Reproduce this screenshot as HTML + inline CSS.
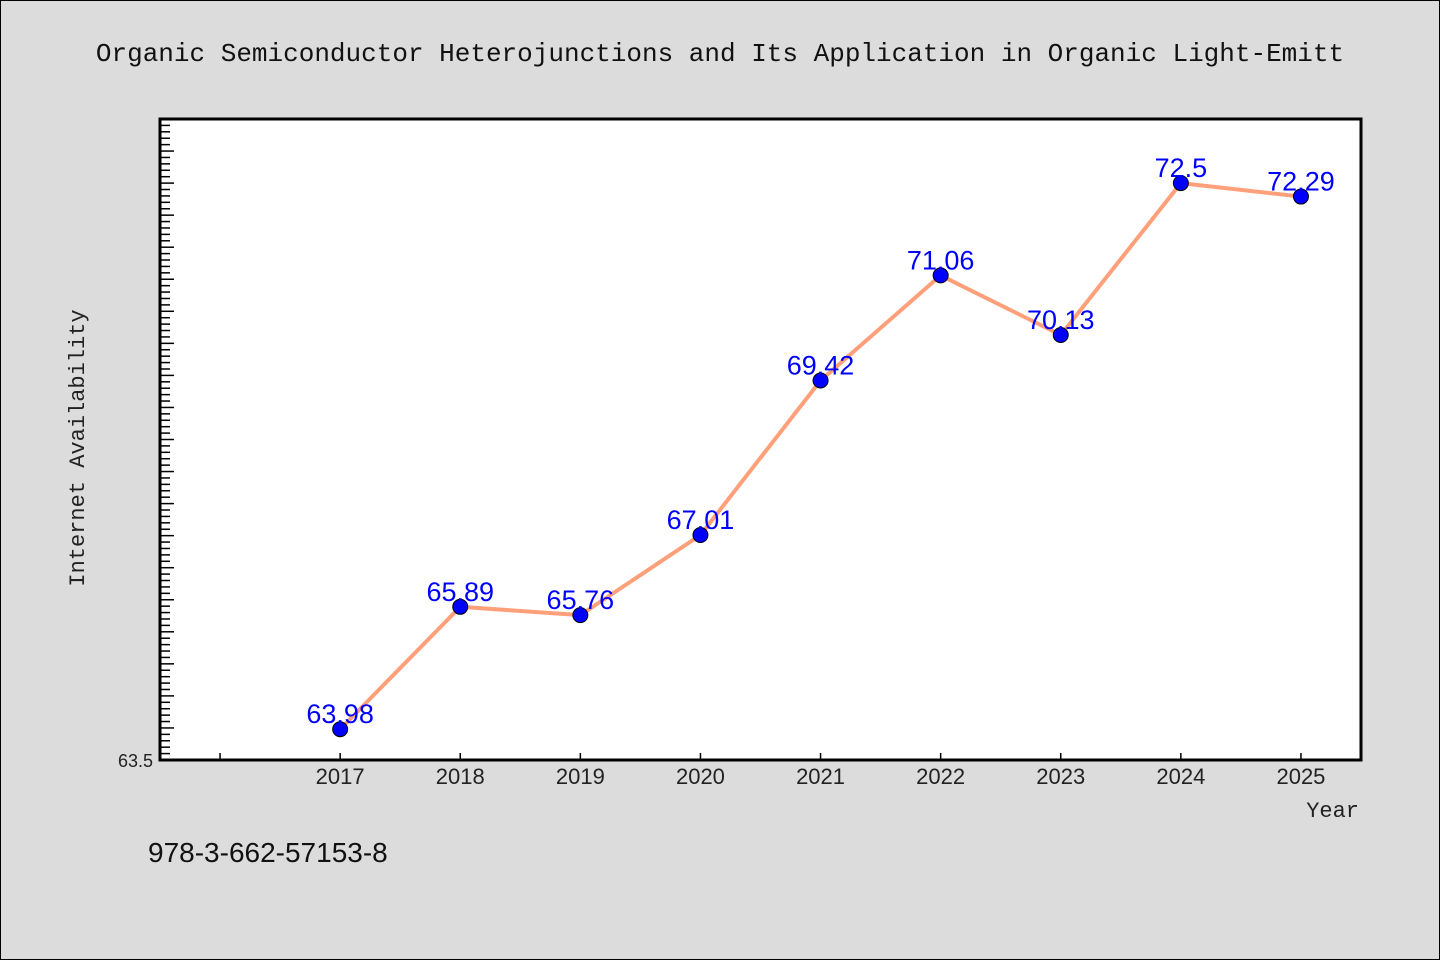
<!DOCTYPE html>
<html><head><meta charset="utf-8"><style>
html,body{margin:0;padding:0;background:#dcdcdc;}
svg{display:block;font-family:"Liberation Mono","Noto Sans CJK SC",monospace;}
</style></head><body>
<svg width="1440" height="960" viewBox="0 0 1440 960">
<rect x="0.5" y="0.5" width="1439" height="959" fill="#dcdcdc" stroke="#000" stroke-width="1"/>
<text x="720" y="61" text-anchor="middle" font-size="26" fill="#111">Organic Semiconductor Heterojunctions and Its Application in Organic Light-Emitt</text>
<rect x="160" y="119" width="1201" height="641" fill="#fff"/>
<g id="ticks"></g>
<g id="series"></g>
<rect x="160" y="119" width="1201" height="641" fill="none" stroke="#000" stroke-width="3"/>
<text x="153" y="767" text-anchor="end" font-size="18" fill="#222" font-family="Liberation Sans, sans-serif">63.5</text>
<text transform="translate(84,448) rotate(-90)" text-anchor="middle" font-size="22" fill="#222">Internet Availability</text>
<text x="1359" y="817" text-anchor="end" font-size="22" fill="#222">Year</text>
<text x="148" y="862" font-size="28" fill="#111" font-family="Liberation Sans, sans-serif">978-3-662-57153-8</text>
</svg>
<script>
const years = [2017,2018,2019,2020,2021,2022,2023,2024,2025];
const values = [63.98,65.89,65.76,67.01,69.42,71.06,70.13,72.5,72.29];
const labels = ["63.98","65.89","65.76","67.01","69.42","71.06","70.13","72.5","72.29"];
const yMin=63.5, yMax=73.5, xMin=2015.5, xMax=2025.5;
const L=160,R=1361,T=119,B=760;
const NS='http://www.w3.org/2000/svg';
const xs=v=>L+(v-xMin)/(xMax-xMin)*(R-L);
const ys=v=>B-(v-yMin)/(yMax-yMin)*(B-T);
function mk(tag,attrs,parent){const e=document.createElementNS(NS,tag);for(const k in attrs)e.setAttribute(k,attrs[k]);parent.appendChild(e);return e;}
const tg=document.getElementById('ticks');
for(let i=1;i<100;i++){
  const v=yMin+i*0.1;const y=ys(v);const major=i%5===0;
  const t=mk('line',{x1:L,x2:L+(major?14:10),y1:y,y2:y,stroke:'#000','stroke-width':1.5},tg);
  
  
}
const xt=[2016].concat(years);
xt.forEach(yr=>{
  const x=xs(yr);
  const t=mk('line',{x1:x,x2:x,y1:B,y2:B-7,stroke:'#000','stroke-width':1.5},tg);
  
  
});
years.forEach(yr=>{
  const t=mk('text',{x:xs(yr),y:784,'text-anchor':'middle','font-size':22,fill:'#222','font-family':'Liberation Sans, sans-serif'},tg);
  t.textContent=yr;
  
  
});
const sg=document.getElementById('series');
const pts=years.map((yr,i)=>xs(yr)+','+ys(values[i])).join(' ');
const line=mk('polyline',{points:pts,fill:'none',stroke:'#ffa07a','stroke-width':4,'stroke-linejoin':'round'},sg);


years.forEach((yr,i)=>{
  const c=mk('circle',{cx:xs(yr),cy:ys(values[i]),r:7.5,fill:'#0000ff',stroke:'#000','stroke-width':1},sg);
  
  
});
years.forEach((yr,i)=>{
  const t=mk('text',{x:xs(yr),y:ys(values[i])-6,'text-anchor':'middle','font-size':27,fill:'#0000ff','font-family':'Liberation Sans, sans-serif'},sg);
  t.textContent=labels[i];
  
  
});
</script>
</body></html>
